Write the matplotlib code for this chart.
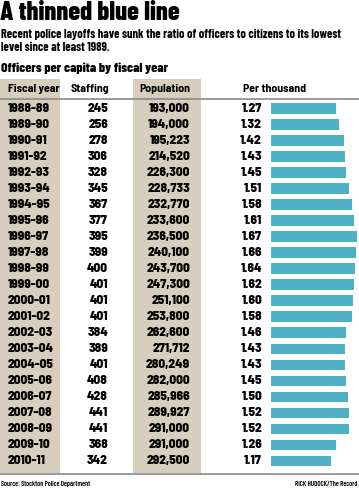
import matplotlib
matplotlib.use("Agg")
import matplotlib.pyplot as plt
from matplotlib.patches import Rectangle

fiscal_years = ["1988-89", "1989-90", "1990-91", "1991-92", "1992-93", "1993-94",
                "1994-95", "1995-96", "1996-97", "1997-98", "1998-99", "1999-00",
                "2000-01", "2001-02", "2002-03", "2003-04", "2004-05", "2005-06",
                "2006-07", "2007-08", "2008-09", "2009-10", "2010-11"]
staffing = [245, 256, 278, 306, 328, 345, 367, 377, 395, 399, 400, 401,
            401, 401, 384, 389, 401, 408, 428, 441, 441, 368, 342]
population = ["193,000", "194,000", "195,223", "214,520", "226,300", "228,733",
              "232,770", "233,600", "236,500", "240,100", "243,700", "247,300",
              "251,100", "253,800", "262,600", "271,712", "280,249", "282,000",
              "285,966", "289,927", "291,000", "291,000", "292,500"]
per_thousand = [1.27, 1.32, 1.42, 1.43, 1.45, 1.51, 1.58, 1.61, 1.67, 1.66, 1.64, 1.62,
                1.60, 1.58, 1.46, 1.43, 1.43, 1.45, 1.50, 1.52, 1.52, 1.26, 1.17]
headers = ["Fiscal year", "Staffing", "Population", "Per thousand"]

W, H = 359, 488
FONT = ["Barlow Condensed", "DejaVu Sans"]
FONT2 = ["Barlow Semi Condensed", "Barlow Condensed", "DejaVu Sans"]
BEIGE = "#d8cebd"
BAR = "#4fb0c5"

fig = plt.figure(figsize=(W / 100, H / 100), dpi=100)
ax = fig.add_axes([0, 0, 1, 1])
ax.set_xlim(0, W)
ax.set_ylim(H, 0)
ax.axis("off")

y0, pitch = 108.3, 16.03
ys = [y0 + i * pitch for i in range(len(fiscal_years))]

# beige columns
ax.add_patch(Rectangle((0, 79), 60, 394, color=BEIGE, lw=0, zorder=0))
ax.add_patch(Rectangle((133, 79), 68, 394, color=BEIGE, lw=0, zorder=0))
ax.plot([0, W], [98.5, 98.5], color="#8a8a8a", lw=1.2, zorder=1)
ax.plot([0, W], [473.5, 473.5], color="#8a8a8a", lw=1.2, zorder=1)

# title texts
ax.text(0, 13, "A thinned blue line", fontsize=19, fontweight=800, family=FONT,
        va="center", ha="left")
ax.text(1, 34, "Recent police layoffs have sunk the ratio of officers to citizens to its lowest",
        fontsize=8.9, fontweight=700, family=FONT, va="center", ha="left")
ax.text(1, 47.5, "level since at least 1989.",
        fontsize=8.9, fontweight=700, family=FONT, va="center", ha="left")
ax.text(1, 68, "Officers per capita by fiscal year", fontsize=9.8, fontweight=800,
        family=FONT, va="center", ha="left")

# headers
hy = 88.5
ax.text(8, hy, headers[0], fontsize=8.5, fontweight=700, family=FONT2, va="center", ha="left")
ax.text(109, hy, headers[1], fontsize=8.5, fontweight=700, family=FONT2, va="center", ha="right")
ax.text(190, hy, headers[2], fontsize=8.5, fontweight=700, family=FONT2, va="center", ha="right")
ax.text(243, hy, headers[3], fontsize=8.5, fontweight=700, family=FONT2, va="center", ha="left")

fs = 9.5
fw = 800
for y, fy, st, po, pt in zip(ys, fiscal_years, staffing, population, per_thousand):
    ax.text(8, y, fy, fontsize=fs, fontweight=fw, family=FONT2, va="center", ha="left")
    ax.text(108, y, str(st), fontsize=fs, fontweight=fw, family=FONT2, va="center", ha="right")
    ax.text(190, y, po, fontsize=fs, fontweight=fw, family=FONT2, va="center", ha="right")
    ax.text(262, y, f"{pt:.2f}", fontsize=fs, fontweight=fw, family=FONT2, va="center", ha="right")

ax.text(1, 484, "Source: Stockton Police Department", fontsize=5, family=FONT,
        fontweight=600, va="center", ha="left")
ax.text(357, 484, "RICK HUDOCK/The Record", fontsize=5, family=FONT,
        fontweight=600, va="center", ha="right")

# bars
bx0 = 271
scale = 51.5
bax = fig.add_axes([bx0 / W, 0, (W - bx0) / W, 1])
bax.set_xlim(0, (W - bx0) / scale)
bax.set_ylim(H, 0)
bax.axis("off")
bax.barh(ys, per_thousand, height=10.5, color=BAR, left=0)

fig.savefig("out.png", dpi=100)
